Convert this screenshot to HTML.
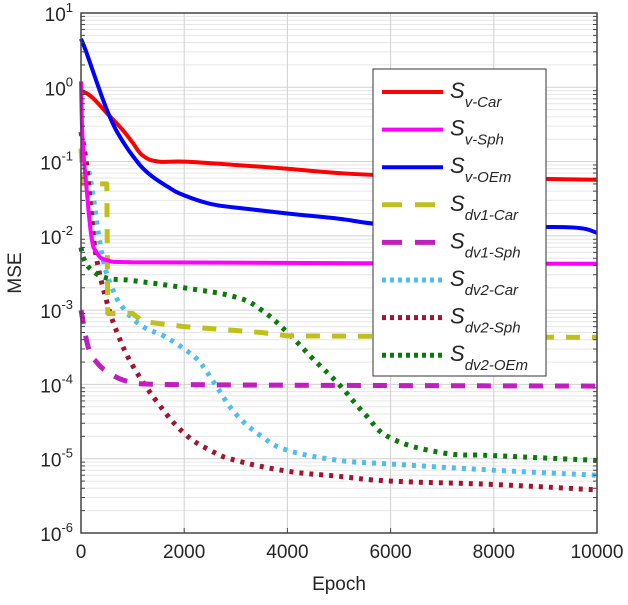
<!DOCTYPE html>
<html><head><meta charset="utf-8"><style>
body{margin:0;background:#fff;}
svg text{font-family:"Liberation Sans",Arial,sans-serif;fill:#262626;}
</style></head><body>
<svg id="c" width="628" height="600" xmlns="http://www.w3.org/2000/svg">
<g id="grid"></g>
<g id="series"></g>
<g id="axes"></g>
<g id="legend"></g>
</svg>
<script>
const NS="http://www.w3.org/2000/svg";
const xTicks=[0,2000,4000,6000,8000,10000];
const yExps=[1,0,-1,-2,-3,-4,-5,-6];
const names=["v-Car","v-Sph","v-OEm","dv1-Car","dv1-Sph","dv2-Car","dv2-Sph","dv2-OEm"];
const colors=["#ff0000","#ff00ff","#0000ff","#bfbf1f","#bf1fbf","#4dbeee","#a2142f","#0b7a0b"];
const epCar=[0,200,500,800,1000,1200,1500,2000,3000,4000,5000,6000,8000,10000];
const vCar=[0.9,0.75,0.45,0.27,0.18,0.12,0.1,0.1,0.09,0.08,0.07,0.065,0.06,0.057];
const epSph=[0,30,100,200,300,500,1000,10000];
const vSph=[1.2,0.2,0.05,0.01,0.006,0.0047,0.0044,0.0042];
const epOEm=[0,100,300,500,700,1000,1300,1700,2000,2500,3000,4000,5000,6000,8000,9500,10000];
const vOEm=[4.5,3,1.2,0.5,0.25,0.12,0.07,0.045,0.035,0.027,0.024,0.02,0.017,0.014,0.013,0.013,0.011];
const ep1Car=[0,50,500,520,1000,1200,2000,3500,4000,10000];
const v1Car=[0.15,0.05,0.05,0.0009,0.0009,0.0007,0.0006,0.0005,0.00045,0.00043];
const ep1Sph=[0,150,300,500,900,1500,10000];
const v1Sph=[0.001,0.0003,0.0002,0.00015,0.00011,0.0001,0.000095];
const ep2Car=[100,200,400,600,850,1200,1600,2000,2300,2600,3000,3500,4000,5000,6000,8000,10000];
const v2Car=[0.1,0.05,0.006,0.002,0.001,0.0006,0.00045,0.0003,0.0002,0.0001,0.00004,0.00002,0.000013,0.0000095,0.0000085,0.000007,0.000006];
const ep2Sph=[0,100,200,300,500,700,1000,1500,2000,2500,3000,4000,5000,6000,8000,10000];
const v2Sph=[0.25,0.1,0.02,0.005,0.0013,0.0005,0.00018,0.000055,0.000022,0.000013,0.0000095,0.0000068,0.0000058,0.000005,0.0000045,0.0000038];
const ep2OEm=[0,50,200,500,1000,2000,3000,3500,4000,4500,5000,5500,6000,7000,8000,10000];
const v2OEm=[0.007,0.005,0.0035,0.0027,0.0025,0.002,0.0015,0.001,0.0005,0.00022,0.0001,0.00004,0.000019,0.000012,0.000011,0.0000095];
const L=81,R=597,T=13,B=533;
const X=e=>L+e/10000*(R-L);
const Y=v=>T+(1-Math.log10(v))*(B-T)/7;
function mk(tag,attrs,parent){const el=document.createElementNS(NS,tag);for(const k in attrs)el.setAttribute(k,attrs[k]);parent.appendChild(el);return el;}
function linear(pts){return pts.map((p,j)=>(j?'L':'M')+p[0].toFixed(1)+','+p[1].toFixed(1)).join('');}
function smooth(pts){let d='M'+pts[0][0].toFixed(1)+','+pts[0][1].toFixed(1);
for(let i=0;i<pts.length-1;i++){const p0=pts[Math.max(i-1,0)],p1=pts[i],p2=pts[i+1],p3=pts[Math.min(i+2,pts.length-1)];
const t=0.2;const c1=[p1[0]+(p2[0]-p0[0])*t,p1[1]+(p2[1]-p0[1])*t],c2=[p2[0]-(p3[0]-p1[0])*t,p2[1]-(p3[1]-p1[1])*t];
c1[0]=Math.min(Math.max(c1[0],p1[0]),p2[0]);c2[0]=Math.min(Math.max(c2[0],p1[0]),p2[0]);
d+='C'+c1.map(v=>v.toFixed(1)).join(',')+' '+c2.map(v=>v.toFixed(1)).join(',')+' '+p2[0].toFixed(1)+','+p2[1].toFixed(1);}
return d;}
const grid=document.getElementById('grid'),axes=document.getElementById('axes'),ser=document.getElementById('series'),leg=document.getElementById('legend');
for(let d=1;d>-6;d--){for(let m=2;m<=9;m++){const y=Y(m*Math.pow(10,d-1));
const g=mk('line',{x1:L,x2:R,y1:y,y2:y,stroke:'#e6e6e6','stroke-width':1},grid);


mk('line',{x1:L,x2:L+4,y1:y,y2:y,stroke:'#444'},axes);mk('line',{x1:R-4,x2:R,y1:y,y2:y,stroke:'#444'},axes);}}
yExps.forEach(e=>{const y=Y(Math.pow(10,e));
const g=mk('line',{x1:L,x2:R,y1:y,y2:y,stroke:'#d0d0d0','stroke-width':1},grid);


const t=mk('text',{x:L-8,y:y+8,'text-anchor':'end','font-size':19},axes);


t.innerHTML='10<tspan dy="-9" font-size="13">'+e+'</tspan>';});
xTicks.forEach(v=>{const x=X(v);
const g=mk('line',{x1:x,x2:x,y1:T,y2:B,stroke:'#d0d0d0'},grid);


mk('line',{x1:x,x2:x,y1:B,y2:B-5,stroke:'#444'},axes);
const t=mk('text',{x:x,y:558,'text-anchor':'middle','font-size':19},axes);


t.textContent=v;});
const frame=mk('rect',{x:L,y:T,width:R-L,height:B-T,fill:'none',stroke:'#444','stroke-width':1.5},axes);


const xt=mk('text',{x:339,y:590,'text-anchor':'middle','font-size':19},axes);


xt.textContent='Epoch';
const yt=mk('text',{x:0,y:0,'text-anchor':'middle','font-size':19,transform:'translate(21,273) rotate(-90)'},axes);


yt.textContent='MSE';
const data=[[epCar,vCar],[epSph,vSph],[epOEm,vOEm],[ep1Car,v1Car],[ep1Sph,v1Sph],[ep2Car,v2Car],[ep2Sph,v2Sph],[ep2OEm,v2OEm]];
const dash=[null,null,null,'14 12','14 12','4 6','4 6','4 6'];
const order=[5,6,7,3,4,0,2,1];
order.forEach(i=>{const [ex,vs]=data[i];
const pts=ex.map((e,j)=>[X(e),Y(vs[j])]);
const p=mk('path',{d:i===3?linear(pts):smooth(pts),fill:'none',stroke:colors[i],'stroke-width':i<3?4:5,'stroke-linejoin':'round'},ser);
if(dash[i])p.setAttribute('stroke-dasharray',dash[i]);

});
const box=mk('rect',{x:373,y:69,width:173,height:307,fill:'#fff',stroke:'#333','stroke-width':1},leg);


names.forEach((n,i)=>{const y=92+i*37.6;
const g=mk('g',{},leg);


const l=mk('line',{x1:382,x2:443,y1:y,y2:y,stroke:colors[i],'stroke-width':i<3?4:5},g);
if(dash[i])l.setAttribute('stroke-dasharray',i<5?'20 13':'4 4');
const t=mk('text',{x:450,y:y+6,'font-size':22,'font-style':'italic'},g);
t.innerHTML='S<tspan dy="9" font-size="15">'+n+'</tspan>';});
</script>
</body></html>
